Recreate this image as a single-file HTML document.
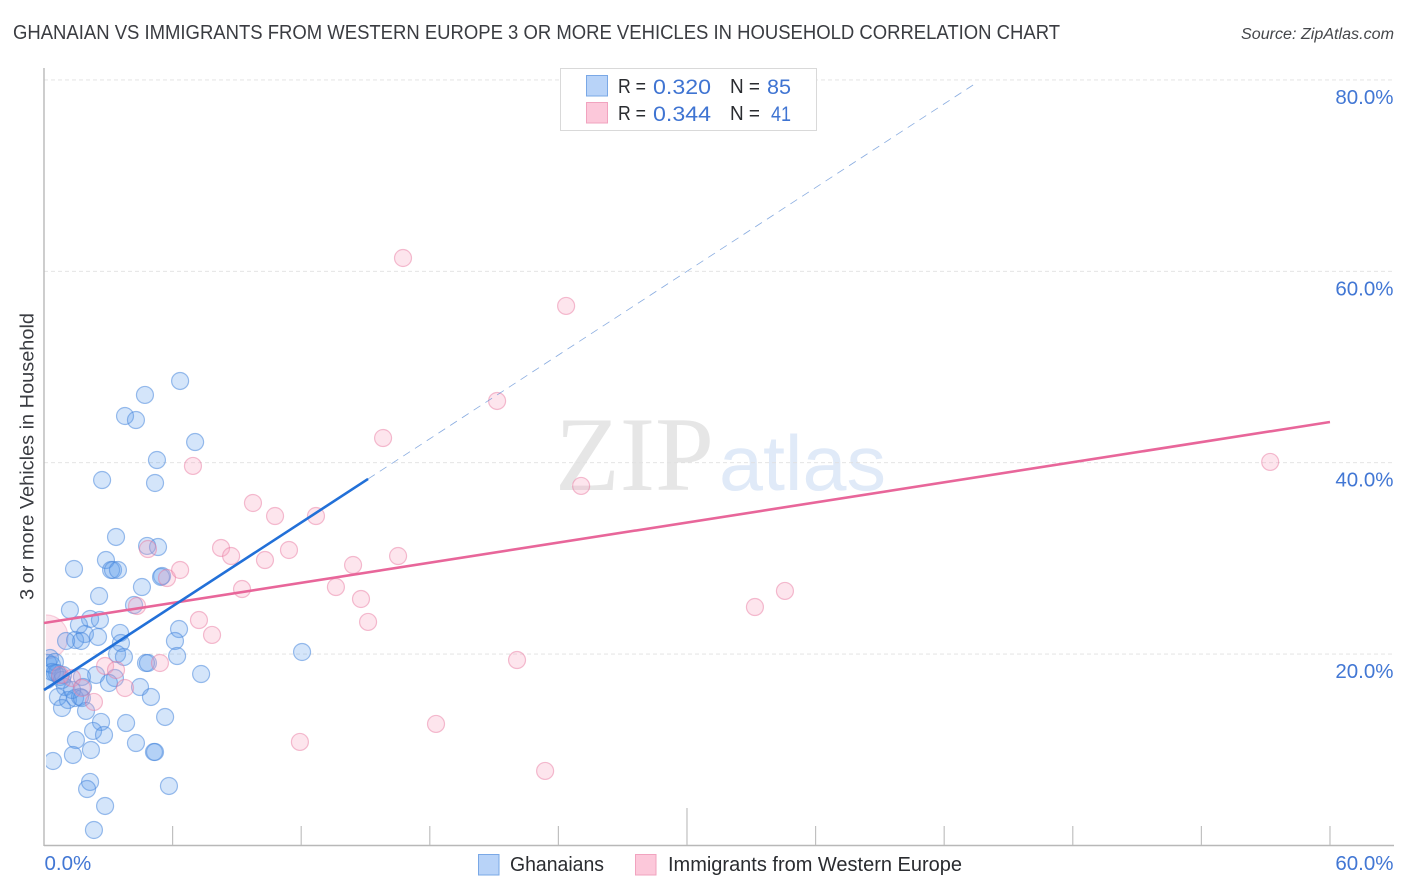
<!DOCTYPE html>
<html lang="en">
<head>
<meta charset="utf-8">
<title>Ghanaian vs Immigrants from Western Europe Correlation Chart</title>
<style>
html,body{margin:0;padding:0;background:#fff;}
svg{display:block;font-family:"Liberation Sans",sans-serif;}
</style>
</head>
<body>
<svg id="chart" xmlns="http://www.w3.org/2000/svg" width="1406" height="892" viewBox="0 0 1406 892">
  <defs>
    <clipPath id="plot-clip"><rect x="46" y="60" width="1350" height="785"/></clipPath>
  </defs>
  <text x="13" y="39" font-size="20" fill="#3a3c41" textLength="1047" lengthAdjust="spacingAndGlyphs">GHANAIAN VS IMMIGRANTS FROM WESTERN EUROPE 3 OR MORE VEHICLES IN HOUSEHOLD CORRELATION CHART</text>
  <text x="1241" y="39" font-size="15.5" font-style="italic" fill="#45474b" textLength="153" lengthAdjust="spacingAndGlyphs">Source: ZipAtlas.com</text>

  <g>
    <text x="555" y="490" font-family="'Liberation Serif',serif" font-size="106" fill="#e6e6e6" textLength="159" lengthAdjust="spacingAndGlyphs">ZIP</text>
    <text x="719" y="490" font-size="78" fill="#e0eaf8" textLength="167" lengthAdjust="spacingAndGlyphs">atlas</text>
  </g>

  <g id="grid"></g>
  <g id="axes"></g>
  <g id="points" clip-path="url(#plot-clip)"></g>
  <g id="trends"></g>
  <g id="labels"></g>

  <text transform="translate(33.5,600) rotate(-90)" font-size="19.5" fill="#3a3c41" textLength="287" lengthAdjust="spacingAndGlyphs">3 or more Vehicles in Household</text>

  <g>
    <rect x="560.5" y="68.5" width="256" height="62" fill="#fff" stroke="#d9d9d9" stroke-width="1"/>
    <rect x="586.5" y="75.5" width="21" height="20.5" fill="#b8d3f8" stroke="#7aa8e6" stroke-width="1"/>
    <rect x="586.5" y="102.5" width="21" height="20.5" fill="#fcc8da" stroke="#f1a3bf" stroke-width="1"/>
    <text x="618" y="93" font-size="20" fill="#2a2c30" textLength="28" lengthAdjust="spacingAndGlyphs">R =</text>
    <text x="653" y="94" font-size="21.5" fill="#3f74d2" textLength="58" lengthAdjust="spacingAndGlyphs">0.320</text>
    <text x="730" y="93" font-size="20" fill="#2a2c30" textLength="30" lengthAdjust="spacingAndGlyphs">N =</text>
    <text x="767" y="94" font-size="21.5" fill="#3f74d2" textLength="24" lengthAdjust="spacingAndGlyphs">85</text>
    <text x="618" y="120" font-size="20" fill="#2a2c30" textLength="28" lengthAdjust="spacingAndGlyphs">R =</text>
    <text x="653" y="121" font-size="21.5" fill="#3f74d2" textLength="58" lengthAdjust="spacingAndGlyphs">0.344</text>
    <text x="730" y="120" font-size="20" fill="#2a2c30" textLength="30" lengthAdjust="spacingAndGlyphs">N =</text>
    <text x="771" y="121" font-size="21.5" fill="#3f74d2" textLength="20" lengthAdjust="spacingAndGlyphs">41</text>
  </g>

  <g>
    <rect x="478.5" y="854.5" width="20.5" height="20.5" fill="#b8d3f8" stroke="#7aa8e6" stroke-width="1"/>
    <text x="510" y="871" font-size="20" fill="#2a2c30" textLength="94" lengthAdjust="spacingAndGlyphs">Ghanaians</text>
    <rect x="635.5" y="854.5" width="20.5" height="20.5" fill="#fcc8da" stroke="#f1a3bf" stroke-width="1"/>
    <text x="668" y="871" font-size="20" fill="#2a2c30" textLength="294" lengthAdjust="spacingAndGlyphs">Immigrants from Western Europe</text>
  </g>
</svg>
<script>
// Data, in percent units
const yTickValues = [20, 40, 60, 80];
const yTickLabels = ["20.0%", "40.0%", "60.0%", "80.0%"];
const xTickValues = [6, 12, 18, 24, 30, 36, 42, 48, 54, 60];
const xMajorTickValues = [30];
const xEndLabels = ["0.0%", "60.0%"];

const blueX = [6.35,4.71,3.78,4.29,7.05,5.27,5.18,2.71,3.36,4.81,5.32,2.89,1.40,3.13,3.22,3.45,5.51,5.46,4.57,2.57,4.20,1.21,2.15,2.61,1.63,1.91,2.52,1.45,1.73,1.03,3.55,3.59,6.30,6.11,3.41,3.73,6.21,4.76,4.85,12.04,7.33,2.43,3.31,3.03,4.48,4.99,5.65,3.83,2.66,2.29,2.80,1.49,4.29,5.13,5.18,2.19,1.35,0.42,2.15,2.01,5.83,2.85,2.33,0.28,0.19,0.37,0.51,0.14,0.61,0.75,0.51,0.89,0.37,1.77,1.82,0.98,0.65,1.12,0.84,1.45,1.68,1.77,1.96,1.31,0.84];
const blueY = [48.54,47.08,44.88,44.46,42.16,40.28,37.88,38.19,32.24,31.30,31.19,29.83,28.89,28.79,28.79,28.79,28.16,28.06,27.01,26.07,25.13,24.61,23.67,23.56,23.04,22.10,21.79,21.47,21.37,21.37,22.21,21.16,22.62,21.37,20.01,19.70,19.80,19.07,19.07,20.22,17.92,17.82,17.50,16.98,16.56,15.52,13.43,12.80,12.91,11.97,11.55,11.02,10.71,9.77,9.77,9.98,9.46,8.83,6.64,5.90,6.22,4.13,1.62,19.59,19.07,18.86,19.18,17.30,18.03,17.61,18.03,17.82,18.13,17.61,16.56,16.56,15.52,15.20,14.37,15.41,15.52,15.41,14.06,16.25,17.30];

const pinkX = [16.75,24.36,21.14,15.82,6.95,57.21,25.06,9.75,10.78,12.69,4.85,8.26,8.73,11.43,10.31,16.52,14.42,5.74,6.35,9.24,13.62,14.79,4.34,7.23,15.12,7.84,33.17,34.57,22.07,5.41,2.85,3.36,0.75,1.31,1.77,3.78,2.33,18.29,11.94,23.38];
const pinkY = [61.39,56.38,46.45,42.58,39.66,40.08,37.57,35.79,34.43,34.43,30.98,31.09,30.25,30.88,29.83,30.25,29.31,27.95,28.79,26.80,27.01,25.76,25.03,23.56,23.36,22.00,24.92,26.60,19.38,19.07,18.76,18.34,17.82,17.50,16.46,16.46,15.00,12.70,10.82,7.79];
const pinkLargeX = [0.09];
const pinkLargeY = [21.79];

const blueTrendXs = [0, 15.12];
const blueTrendYs = [16.25, 38.3];
const blueDashXs = [15.12, 43.44];
const blueDashYs = [38.3, 79.6];
const pinkTrendXs = [0, 60];
const pinkTrendYs = [23.25, 44.25];

// Axis functions
const xScale = function (v) { return 44 + v * 21.433; };
const yScale = function (v) { return 845.5 - v * 9.57; };

const NS = 'http://www.w3.org/2000/svg';
function make(tag, parentId, attrs) {
  const el = document.createElementNS(NS, tag);
  Object.keys(attrs).forEach(function (k) { el.setAttribute(k, attrs[k]); });
  document.getElementById(parentId).appendChild(el);
  return el;
}

// Gridlines and right-hand labels
yTickValues.forEach(function (v, i) {
  const line = make('line', 'grid', {x1: 44, x2: 1394, y1: yScale(v), y2: yScale(v), stroke: '#e0e0e0', 'stroke-width': 0.9, 'stroke-dasharray': '4 3'});
  
  
  const label = make('text', 'labels', {x: 1393.5, y: yScale(v) + 24, 'font-size': 20.5, fill: '#4277d4', 'text-anchor': 'end'});
  label.textContent = yTickLabels[i];
  
  
});

// Axes
const yAxis = make('line', 'axes', {x1: 44, x2: 44, y1: 68, y2: 846, stroke: '#b8b8b8', 'stroke-width': 1.4});


const xAxis = make('line', 'axes', {x1: 44, x2: 1394, y1: 845.5, y2: 845.5, stroke: '#b8b8b8', 'stroke-width': 1.4});


xTickValues.forEach(function (v) {
  const isMajor = xMajorTickValues.indexOf(v) >= 0;
  const tick = make('line', 'axes', {x1: xScale(v), x2: xScale(v), y1: isMajor ? 808 : 826, y2: 845, stroke: '#c0c0c0', 'stroke-width': 1.2});
  
  
});
const xLabelStart = make('text', 'labels', {x: 44.5, y: 870, 'font-size': 20.5, fill: '#4277d4'});
xLabelStart.textContent = xEndLabels[0];


const xLabelEnd = make('text', 'labels', {x: 1393.5, y: 870, 'font-size': 20.5, fill: '#4277d4', 'text-anchor': 'end'});
xLabelEnd.textContent = xEndLabels[1];



// Points
pinkLargeX.forEach(function (x, i) {
  const c = make('circle', 'points', {cx: xScale(x), cy: yScale(pinkLargeY[i]), r: 22, fill: '#f7a3bf', 'fill-opacity': 0.28, stroke: '#ea7fa3', 'stroke-opacity': 0.35, 'stroke-width': 1.1});
  
  
});
blueX.forEach(function (x, i) {
  const c = make('circle', 'points', {cx: xScale(x), cy: yScale(blueY[i]), r: 8.5, fill: '#5a9aec', 'fill-opacity': 0.26, stroke: '#4a88dc', 'stroke-opacity': 0.55, 'stroke-width': 1.2});
  
  
});
pinkX.forEach(function (x, i) {
  const c = make('circle', 'points', {cx: xScale(x), cy: yScale(pinkY[i]), r: 8.5, fill: '#f7a3bf', 'fill-opacity': 0.28, stroke: '#e8779f', 'stroke-opacity': 0.48, 'stroke-width': 1.2});
  
  
});

// Trend lines
const blueDash = make('line', 'trends', {x1: xScale(blueDashXs[0]), y1: yScale(blueDashYs[0]), x2: xScale(blueDashXs[1]), y2: yScale(blueDashYs[1]), stroke: '#4a7fd0', 'stroke-width': 0.8, 'stroke-dasharray': '8 6', 'stroke-opacity': 0.65});


const pinkTrend = make('line', 'trends', {x1: xScale(pinkTrendXs[0]), y1: yScale(pinkTrendYs[0]), x2: xScale(pinkTrendXs[1]), y2: yScale(pinkTrendYs[1]), stroke: '#e8669a', 'stroke-width': 2.6});


const blueTrend = make('line', 'trends', {x1: xScale(blueTrendXs[0]), y1: yScale(blueTrendYs[0]), x2: xScale(blueTrendXs[1]), y2: yScale(blueTrendYs[1]), stroke: '#2270d8', 'stroke-width': 2.6});


</script>
</body>
</html>
